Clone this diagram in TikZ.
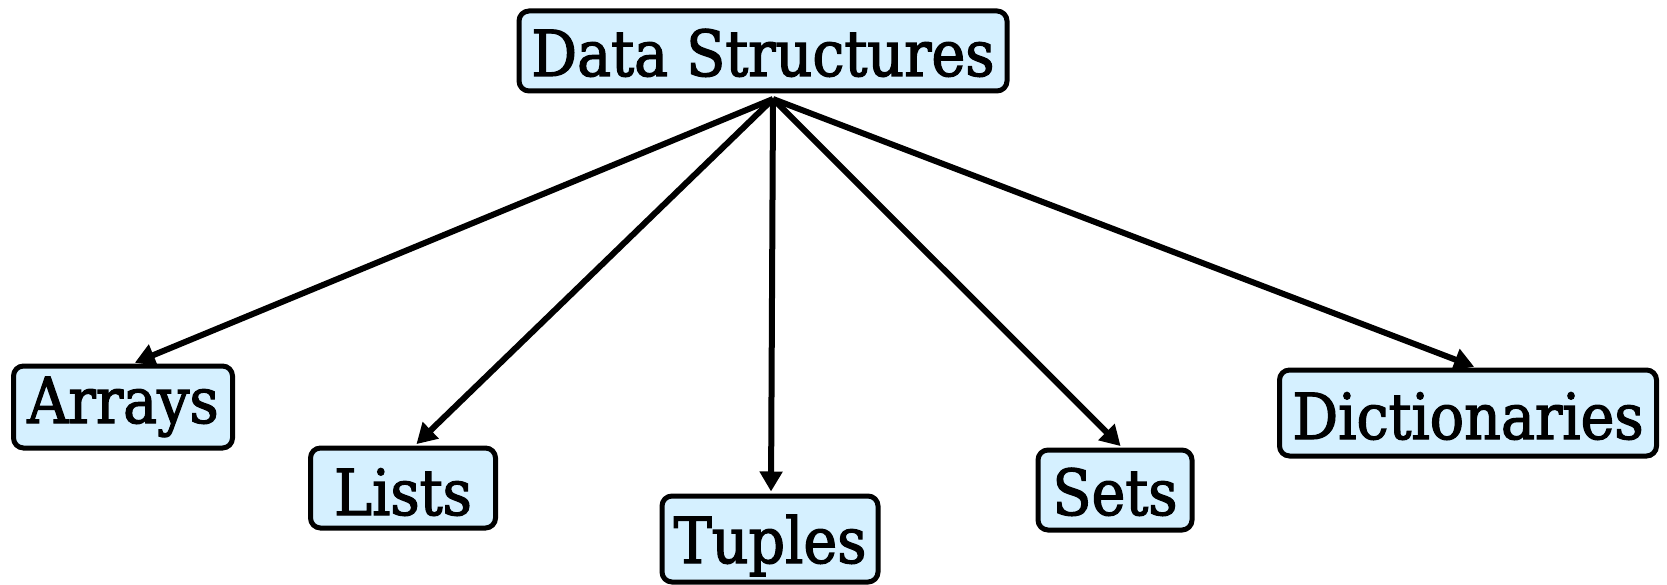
\documentclass[tikz,border=0pt]{standalone}
\usepackage{fontspec}
\setmainfont{DejaVu Serif Condensed}[FakeBold=2]
\usetikzlibrary{arrows.meta}
\definecolor{boxfill}{HTML}{D5F0FF}
\begin{document}
\begin{tikzpicture}[x=1pt,y=-1pt,
  box/.style={draw=black,line width=5pt,rounded corners=10pt,fill=boxfill,
    inner sep=0pt,text depth=0pt,font=\fontsize{63.5}{65}\selectfont},
  conn/.style={line width=6pt,-{Triangle[length=20pt,width=22pt]},shorten >=2pt}]
\useasboundingbox (0,0) rectangle (1667,585);
\node[box,minimum width=488pt,minimum height=80pt,text height=50pt] (ds) at (763,51) {Data Structures};
\node[box,minimum width=219pt,minimum height=82pt,text height=32pt] (arr) at (123,407) {Arrays};
\node[box,minimum width=185pt,minimum height=80pt,text height=54pt] (lis) at (403,488) {Lists};
\node[box,minimum width=216pt,minimum height=86pt,text height=48pt] (tup) at (770,539) {Tuples};
\node[box,minimum width=154pt,minimum height=80pt,text height=50pt] (set) at (1115,490) {Sets};
\node[box,minimum width=377pt,minimum height=86pt,text height=52pt] (dic) at (1468,413) {Dictionaries};
\coordinate (src) at (773,99);
\draw[conn] (src) -- ([xshift=10pt]arr.north);
\draw[conn] (src) -- ([xshift=12pt]lis.north);
\draw[conn] (src) -- ([xshift=1pt]tup.north);
\draw[conn] (src) -- ([xshift=7pt]set.north);
\draw[conn] (src) -- ([xshift=8pt]dic.north);
\end{tikzpicture}
\end{document}
